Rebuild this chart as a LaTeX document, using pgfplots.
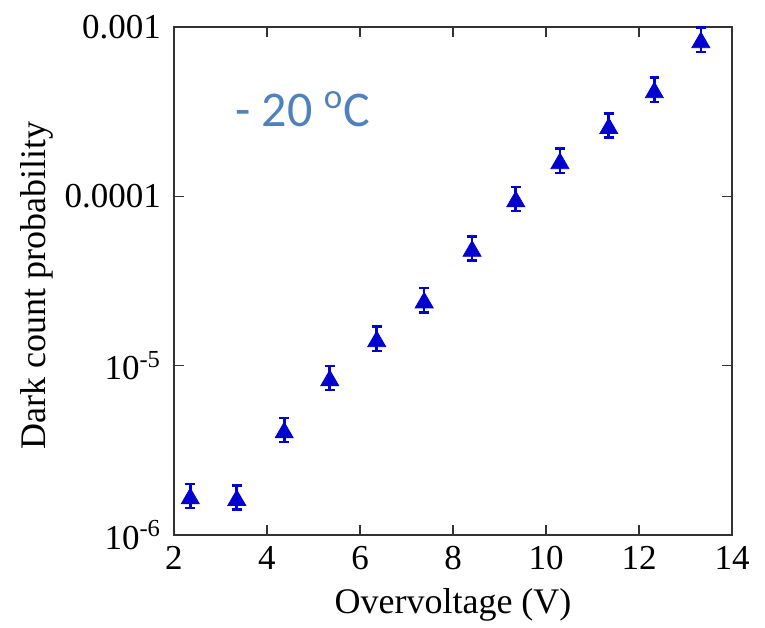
\documentclass[border=0pt]{standalone}
\usepackage{fontspec}
\setmainfont{Liberation Serif}
\newfontfamily\calib{Carlito}
\usepackage{pgfplots}
\pgfplotsset{compat=1.18}
\definecolor{markblue}{RGB}{0,0,208}
\definecolor{notecol}{RGB}{79,129,189}

\begin{document}
\begin{tikzpicture}
\useasboundingbox (-87pt,-46pt) rectangle (295.5pt,267.5pt);
\begin{axis}[
    at={(0,0)}, anchor=south west,
    scale only axis,
    width=279pt, height=254pt,
    xmin=2, xmax=14,
    ymode=log,
    ymin=1e-6, ymax=1e-3,
    xtick={2,4,...,14},
    ytick={1e-6,1e-5,1e-4,1e-3},
    yticklabels={10\textsuperscript{-6},10\textsuperscript{-5},0.0001,0.001},
    yminorticks=false,
    tick align=inside,
    major tick length=5pt,
    axis line style={line width=0.8pt, black!80},
    every tick/.style={line width=0.8pt, black!80},
    /pgf/number format/assume math mode=true,
    tick label style={font=\fontsize{17.5}{20}\selectfont},
    xticklabel style={yshift=-2pt},
    yticklabel style={xshift=-3pt},
    xlabel={Overvoltage (V)},
    ylabel={Dark count probability},
    label style={font=\fontsize{18}{21}\selectfont},
    xlabel style={at={(axis description cs:0.5,-0.138)}, anchor=center},
    ylabel style={at={(axis description cs:-0.245,0.492)}, anchor=center},
    clip=false,
]

\addplot[
    only marks,
    mark=triangle*,
    mark size=5.2pt,
    mark options={yshift=-1.3pt},
    color=markblue,
    error bars/.cd,
        y dir=both, y explicit relative,
        error mark options={rotate=90, mark size=2.4pt, line width=1.4pt, color=markblue},
        error bar style={line width=1.3pt, color=markblue},
] table[x=x, y=y, y error plus=ep, y error minus=em] {
x      y        ep     em
2.35   1.70e-6  0.178  0.151
3.35   1.66e-6  0.178  0.151
4.37   4.17e-6  0.178  0.151
5.35   8.46e-6  0.178  0.151
6.36   1.44e-5  0.178  0.151
7.38   2.44e-5  0.178  0.151
8.41   4.92e-5  0.178  0.151
9.35   9.65e-5  0.178  0.151
10.30  1.62e-4  0.178  0.151
11.35  2.61e-4  0.178  0.151
12.33  4.25e-4  0.178  0.151
13.33  8.39e-4  0.178  0.151
};

\node[anchor=base west, inner sep=0pt, text=notecol, font=\calib\fontsize{25}{28}\selectfont]
    at (axis description cs:0.109,0.805) {- 20 \textsuperscript{o}C};

\end{axis}
\end{tikzpicture}
\end{document}
